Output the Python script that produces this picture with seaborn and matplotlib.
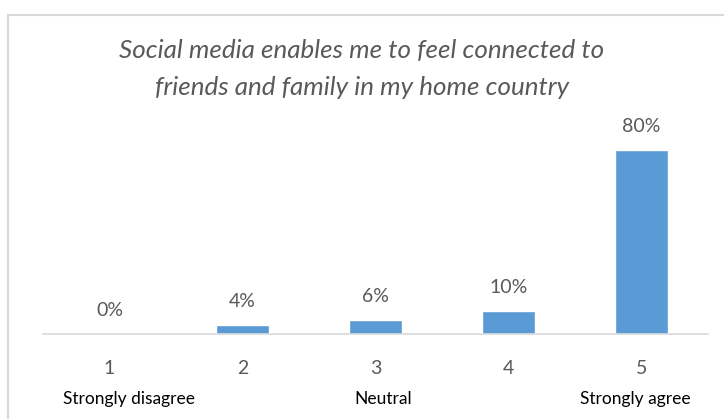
import matplotlib
matplotlib.use("Agg")
import matplotlib.pyplot as plt
import matplotlib.patches as mpatches
import matplotlib.transforms as mtransforms
import seaborn as sns
import pandas as pd

# Survey responses on a 1-5 agreement scale
scale_points = ["1", "2", "3", "4", "5"]
shares = [0, 4, 6, 10, 80]
value_labels = ["0%", "4%", "6%", "10%", "80%"]
anchor_labels = ["Strongly disagree", "Neutral", "Strongly agree"]
title_text = "Social media enables me to feel connected to\nfriends and family in my home country"

sns.set_theme(style="white")
plt.rcParams["font.family"] = ["Lato", "DejaVu Sans"]

text_grey = "#595959"
bar_blue = "#5B9BD5"

df = pd.DataFrame({"point": scale_points, "share": shares})

fig = plt.figure(figsize=(7.24, 4.19), dpi=100)
ax = fig.add_axes([43 / 724, 1 - 334 / 419, 665 / 724, 214 / 419])

sns.barplot(data=df, x="point", y="share", color=bar_blue, width=0.4,
            saturation=1, ax=ax)

ax.set_ylim(0, 93)
ax.set_xlim(-0.5, 4.5)
for side in ["top", "right", "left"]:
    ax.spines[side].set_visible(False)
ax.spines["bottom"].set_color("#d9d9d9")
ax.spines["bottom"].set_linewidth(1.2)
ax.set_yticks([])
ax.set_xlabel("")
ax.set_ylabel("")
ax.tick_params(axis="x", length=0, pad=18.5, labelsize=14, colors=text_grey)

# Percent labels above each bar
for i, (v, lab) in enumerate(zip(shares, value_labels)):
    ax.annotate(lab, (i, v), xytext=(0, 11), textcoords="offset points",
                ha="center", va="bottom", fontsize=14, color=text_grey)

# Anchor descriptions in a row beneath the scale points
anchor_x = [0.129, 0.511, 0.890]
blend = mtransforms.blended_transform_factory(ax.transAxes, fig.transFigure)
for xpos, desc in zip(anchor_x, anchor_labels):
    ax.text(xpos, 1 - 399 / 419, desc, transform=blend,
            ha="center", va="center", fontsize=12.5, color="black")

fig.text(0.5, 1 - 69 / 419, title_text, ha="center", va="center",
         fontsize=18.7, style="italic", color=text_grey, linespacing=1.7)

# Chart-area frame
fig.patches.append(mpatches.Rectangle((8 / 724, -0.1), 1.2, 1 - 15 / 419 + 0.1,
                                      transform=fig.transFigure, fill=False,
                                      edgecolor="#d9d9d9", linewidth=1.5))

fig.savefig("out.png", dpi=100)
